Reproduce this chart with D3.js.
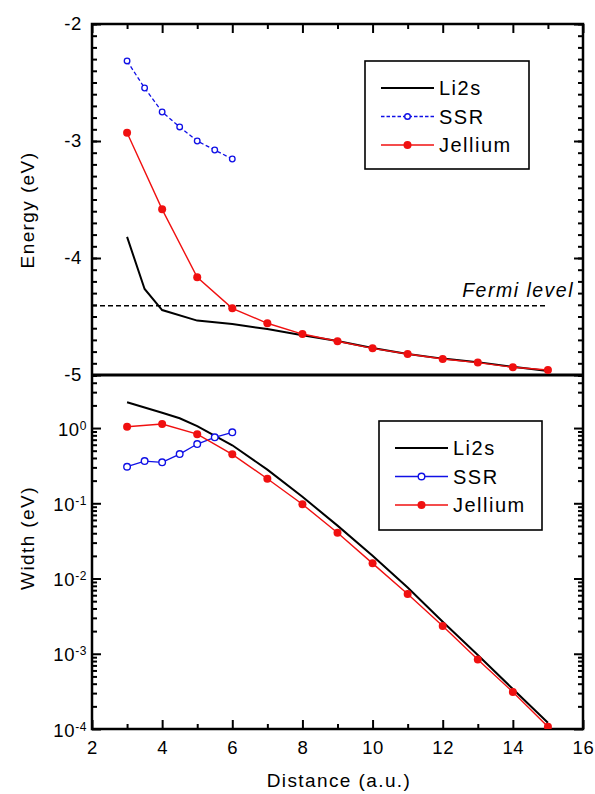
<!DOCTYPE html>
<html>
<head>
<meta charset="utf-8">
<script src="https://cdn.jsdelivr.net/npm/d3@7"></script>
<style>
  body { margin: 0; background: #fff; }
  svg text { font-family: "Liberation Sans", Arial, sans-serif; }
</style>
</head>
<body>
<svg id="chart" width="595" height="794"></svg>
<script>
// ---- data ----
var energyLi2sX = [3, 3.5, 4, 5, 6, 7, 8, 9, 10, 11, 12, 13, 14, 15];
var energyLi2s = [-3.82, -4.265, -4.445, -4.535, -4.565, -4.607, -4.66, -4.71, -4.77, -4.82, -4.86, -4.89, -4.93, -4.965];
var energySsrX = [3, 3.5, 4, 4.5, 5, 5.5, 6];
var energySsr = [-2.316, -2.547, -2.752, -2.88, -3.0, -3.077, -3.154];
var energyJelX = [3, 4, 5, 6, 7, 8, 9, 10, 11, 12, 13, 14, 15];
var energyJel = [-2.93, -3.584, -4.165, -4.43, -4.558, -4.65, -4.712, -4.772, -4.821, -4.863, -4.894, -4.934, -4.957];
var fermiLevel = -4.408;

var widthLi2sX = [3, 4, 4.5, 5, 6, 7, 8, 9, 10, 11, 12, 13, 14, 15];
var widthLi2s = [2.2, 1.6, 1.35, 1.06, 0.59, 0.28, 0.122, 0.0505, 0.0201, 0.0076, 0.00267, 0.00096, 0.00034, 0.000121];
var widthSsrX = [3, 3.5, 4, 4.5, 5, 5.5, 6];
var widthSsr = [0.306, 0.364, 0.35, 0.451, 0.613, 0.752, 0.877];
var widthJelX = [3, 4, 5, 6, 7, 8, 9, 10, 11, 12, 13, 14, 15];
var widthJel = [1.04, 1.13, 0.83, 0.447, 0.212, 0.097, 0.0406, 0.0159, 0.00622, 0.00234, 0.00084, 0.00031, 0.000107];

var xTicks = [2, 4, 6, 8, 10, 12, 14, 16];
var energyTicks = [-2, -3, -4, -5];
var widthTicks = [1, 0.1, 0.01, 0.001, 0.0001];
var seriesNames = ["Li2s", "SSR", "Jellium"];

// ---- layout ----
var svg = d3.select("#chart");
var left = 92, right = 583, top1 = 24, mid = 375, bottom = 729;
var RED = "#f01010", BLUE = "#1010e6";

var x = d3.scaleLinear().domain([2, 16]).range([left, right]);
var yE = d3.scaleLinear().domain([-5, -2]).range([mid, top1]);
var yW = d3.scaleLog().domain([1e-4, Math.pow(10, 0.705)]).range([bottom, mid]);

function zip(xs, ys) { return xs.map((d, i) => [d, ys[i]]); }

// clip paths
svg.append("clipPath").attr("id", "c1").append("rect")
    .attr("x", left).attr("y", top1).attr("width", right - left).attr("height", mid - top1);
svg.append("clipPath").attr("id", "c2").append("rect")
    .attr("x", left).attr("y", mid).attr("width", right - left).attr("height", bottom - mid);

function styleAxis(g) {
    g.select(".domain").remove();
    g.selectAll(".tick line").attr("stroke", "#000").attr("stroke-width", 2);
    g.selectAll("text").attr("font-size", 18.5).attr("fill", "#000").attr("letter-spacing", 0.6);
}

// ---- top panel axes ----
var eMinor = d3.range(-50, -19).map(d => d / 10);
svg.append("g").attr("transform", `translate(${left},0)`)
    .call(d3.axisLeft(yE).tickValues(eMinor).tickSize(-5).tickFormat(""))
    .call(styleAxis);
svg.append("g").attr("transform", `translate(${left},0)`)
    .call(d3.axisLeft(yE).tickValues(energyTicks).tickSize(-9).tickPadding(10).tickFormat(d => String(d)))
    .call(styleAxis);
svg.append("g").attr("transform", `translate(${right},0)`)
    .call(d3.axisRight(yE).tickValues(eMinor).tickSize(-5).tickFormat(""))
    .call(styleAxis);
svg.append("g").attr("transform", `translate(${right},0)`)
    .call(d3.axisRight(yE).tickValues(energyTicks).tickSize(-9).tickFormat(""))
    .call(styleAxis);
svg.append("g").attr("transform", `translate(0,${top1})`)
    .call(d3.axisTop(x).tickValues(d3.range(3, 16, 2)).tickSize(-5).tickFormat(""))
    .call(styleAxis);
svg.append("g").attr("transform", `translate(0,${top1})`)
    .call(d3.axisTop(x).tickValues(xTicks).tickSize(-9).tickFormat(""))
    .call(styleAxis);

// ---- bottom panel axes ----
var wMinor = [];
[1e-4, 1e-3, 1e-2, 1e-1, 1].forEach(p => { for (var k = 2; k <= 9; k++) if (p * k < 5.1) wMinor.push(p * k); });
svg.append("g").attr("transform", `translate(${left},0)`)
    .call(d3.axisLeft(yW).tickValues(wMinor).tickSize(-5).tickFormat(""))
    .call(styleAxis);
svg.append("g").attr("transform", `translate(${left},0)`)
    .call(d3.axisLeft(yW).tickValues(widthTicks).tickSize(-9).tickPadding(5).tickFormat(""))
    .call(styleAxis)
    .selectAll(".tick text")
    .each(function(d) {
        var t = d3.select(this).attr("dy", "0.38em");
        t.append("tspan").text("10");
        t.append("tspan").attr("dy", "-0.5em").attr("font-size", 12).text(Math.round(Math.log10(d)));
    });
svg.append("g").attr("transform", `translate(${right},0)`)
    .call(d3.axisRight(yW).tickValues(wMinor).tickSize(-5).tickFormat(""))
    .call(styleAxis);
svg.append("g").attr("transform", `translate(${right},0)`)
    .call(d3.axisRight(yW).tickValues(widthTicks).tickSize(-9).tickFormat(""))
    .call(styleAxis);
svg.append("g").attr("transform", `translate(0,${bottom})`)
    .call(d3.axisBottom(x).tickValues(d3.range(3, 16, 2)).tickSize(-5).tickFormat(""))
    .call(styleAxis);
svg.append("g").attr("transform", `translate(0,${bottom})`)
    .call(d3.axisBottom(x).tickValues(xTicks).tickSize(-9).tickPadding(12).tickFormat(d => String(d)))
    .call(styleAxis);

// frames
svg.append("rect").attr("x", left).attr("y", top1).attr("width", right - left).attr("height", bottom - top1)
    .attr("fill", "none").attr("stroke", "#000").attr("stroke-width", 2.5);
svg.append("line").attr("x1", left).attr("x2", right).attr("y1", mid).attr("y2", mid)
    .attr("stroke", "#000").attr("stroke-width", 3);

// ---- top panel data ----
var lineE = d3.line().x(d => x(d[0])).y(d => yE(d[1]));
var p1 = svg.append("g").attr("clip-path", "url(#c1)");

p1.append("line").attr("x1", x(2)).attr("x2", x(15)).attr("y1", yE(fermiLevel)).attr("y2", yE(fermiLevel))
    .attr("stroke", "#000").attr("stroke-width", 1.6).attr("stroke-dasharray", "5,3");
svg.append("text").attr("x", 574).attr("y", 297).attr("text-anchor", "end")
    .attr("font-size", 19.5).attr("letter-spacing", 1.5).attr("font-style", "italic").text("Fermi level");

p1.append("path").datum(zip(energyLi2sX, energyLi2s)).attr("d", lineE)
    .attr("fill", "none").attr("stroke", "#000").attr("stroke-width", 2);
p1.append("path").datum(zip(energySsrX, energySsr)).attr("d", lineE)
    .attr("fill", "none").attr("stroke", BLUE).attr("stroke-width", 1.3).attr("stroke-dasharray", "4,2.5");
p1.selectAll(".ssrE").data(zip(energySsrX, energySsr)).enter().append("circle")
    .attr("cx", d => x(d[0])).attr("cy", d => yE(d[1])).attr("r", 2.8)
    .attr("fill", "#fff").attr("stroke", BLUE).attr("stroke-width", 1.3);
p1.append("path").datum(zip(energyJelX, energyJel)).attr("d", lineE)
    .attr("fill", "none").attr("stroke", RED).attr("stroke-width", 1.4);
p1.selectAll(".jelE").data(zip(energyJelX, energyJel)).enter().append("circle")
    .attr("cx", d => x(d[0])).attr("cy", d => yE(d[1])).attr("r", 4)
    .attr("fill", RED);

// ---- bottom panel data ----
var lineW = d3.line().x(d => x(d[0])).y(d => yW(d[1]));
var p2 = svg.append("g").attr("clip-path", "url(#c2)");
p2.append("path").datum(zip(widthLi2sX, widthLi2s)).attr("d", lineW)
    .attr("fill", "none").attr("stroke", "#000").attr("stroke-width", 2);
p2.append("path").datum(zip(widthSsrX, widthSsr)).attr("d", lineW)
    .attr("fill", "none").attr("stroke", BLUE).attr("stroke-width", 1.3);
p2.selectAll(".ssrW").data(zip(widthSsrX, widthSsr)).enter().append("circle")
    .attr("cx", d => x(d[0])).attr("cy", d => yW(d[1])).attr("r", 3.3)
    .attr("fill", "#fff").attr("stroke", BLUE).attr("stroke-width", 1.4);
p2.append("path").datum(zip(widthJelX, widthJel)).attr("d", lineW)
    .attr("fill", "none").attr("stroke", RED).attr("stroke-width", 1.4);
p2.selectAll(".jelW").data(zip(widthJelX, widthJel)).enter().append("circle")
    .attr("cx", d => x(d[0])).attr("cy", d => yW(d[1])).attr("r", 4)
    .attr("fill", RED);

// ---- legends ----
function legend(bx, by, bw, bh, ssrDashed, ssrR) {
    var g = svg.append("g").attr("transform", `translate(${bx},${by})`);
    g.append("rect").attr("width", bw).attr("height", bh).attr("fill", "#fff")
        .attr("stroke", "#000").attr("stroke-width", 1.6);
    var colors = ["#000", BLUE, RED];
    seriesNames.forEach((name, i) => {
        var yy = 27 + i * 28.5;
        g.append("line").attr("x1", 16).attr("x2", 69).attr("y1", yy).attr("y2", yy)
            .attr("stroke", colors[i]).attr("stroke-width", i == 0 ? 2 : 1.3)
            .attr("stroke-dasharray", i == 1 && ssrDashed ? "3.5,2" : null);
        if (i == 1) g.append("circle").attr("cx", 42.5).attr("cy", yy).attr("r", ssrR)
            .attr("fill", "#fff").attr("stroke", BLUE).attr("stroke-width", 1.4);
        if (i == 2) g.append("circle").attr("cx", 42.5).attr("cy", yy).attr("r", 4).attr("fill", RED);
        g.append("text").attr("x", 74).attr("y", yy).attr("dy", "0.36em")
            .attr("font-size", 20).attr("letter-spacing", 1.5).text(name);
    });
}
legend(365, 61, 164, 108, true, 2.8);
legend(379, 421, 163, 109, false, 3.3);

// ---- axis titles ----
svg.append("text").attr("transform", "translate(34,210) rotate(-90)").attr("text-anchor", "middle")
    .attr("font-size", 19).attr("letter-spacing", 1.4).text("Energy (eV)");
svg.append("text").attr("transform", "translate(34,538) rotate(-90)").attr("text-anchor", "middle")
    .attr("font-size", 19).attr("letter-spacing", 1.4).text("Width (eV)");
svg.append("text").attr("x", 339).attr("y", 787).attr("text-anchor", "middle")
    .attr("font-size", 19).attr("letter-spacing", 1.4).text("Distance (a.u.)");
</script>
</body>
</html>
